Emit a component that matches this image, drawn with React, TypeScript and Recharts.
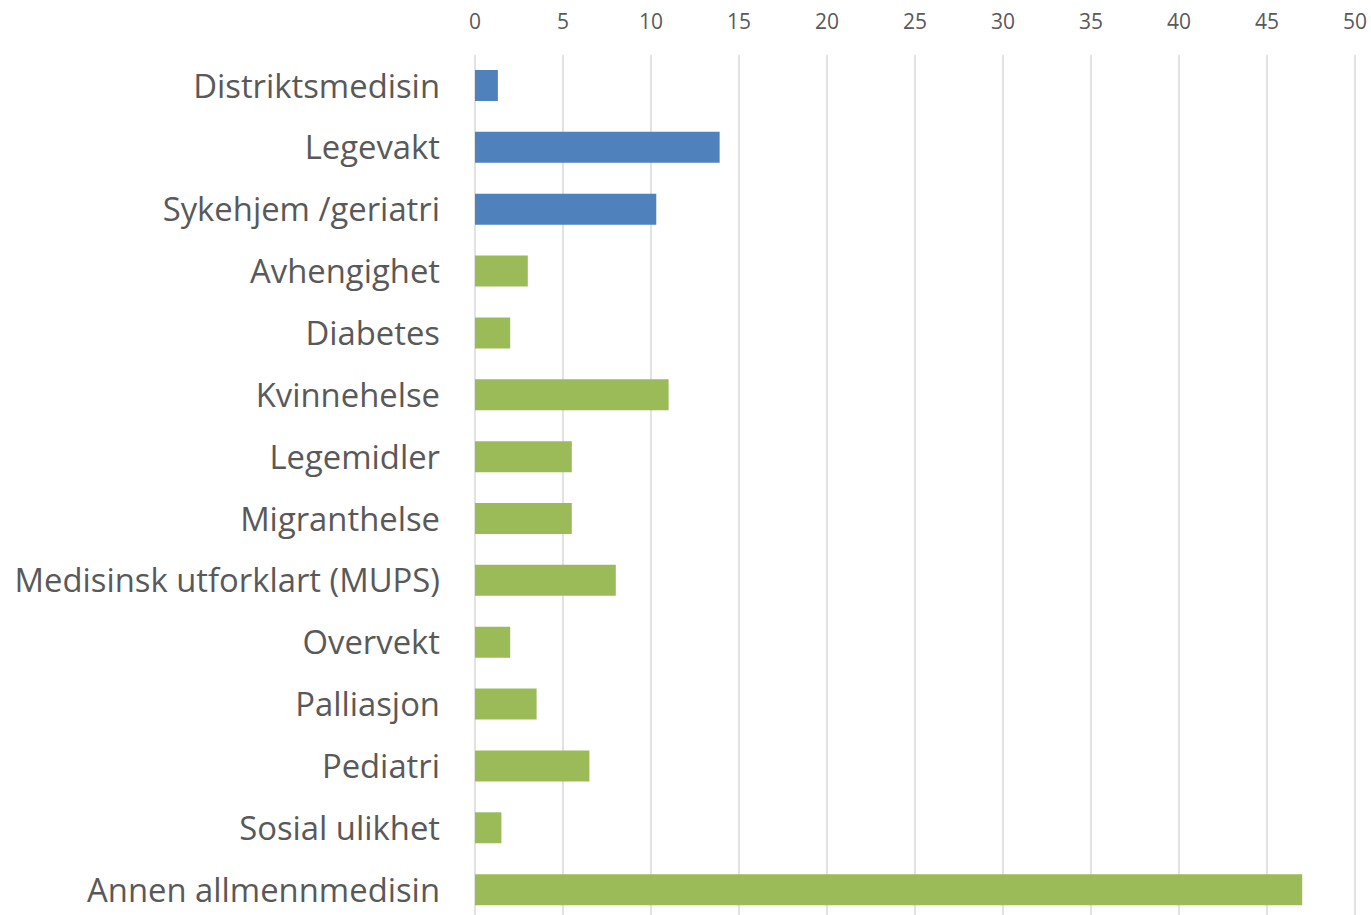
import { BarChart, Bar, XAxis, YAxis, CartesianGrid, Cell } from 'recharts'

const categories = [
  'Distriktsmedisin',
  'Legevakt',
  'Sykehjem /geriatri',
  'Avhengighet',
  'Diabetes',
  'Kvinnehelse',
  'Legemidler',
  'Migranthelse',
  'Medisinsk utforklart (MUPS)',
  'Overvekt',
  'Palliasjon',
  'Pediatri',
  'Sosial ulikhet',
  'Annen allmennmedisin',
]
const values = [1.3, 13.9, 10.3, 3, 2, 11, 5.5, 5.5, 8, 2, 3.5, 6.5, 1.5, 47]
const groups = ['a', 'a', 'a', 'b', 'b', 'b', 'b', 'b', 'b', 'b', 'b', 'b', 'b', 'b']
const ticks = [0, 5, 10, 15, 20, 25, 30, 35, 40, 45, 50]

const colors: Record<string, string> = { a: '#4F81BD', b: '#9BBB59' }

const data = categories.map((name, i) => ({ name, value: values[i], group: groups[i] }))

export default function App() {
  return (
    <div style={{ position: 'absolute', left: 0, top: -1, background: '#fff' }}>
      <BarChart
        width={1371}
        height={922}
        data={data}
        layout="vertical"
        margin={{ top: 0, right: 16, bottom: 0, left: 0 }}
      >
        <CartesianGrid horizontal={false} stroke="#d9d9d9" strokeWidth={1.5} />
        <XAxis
          type="number"
          orientation="top"
          domain={[0, 50]}
          ticks={ticks}
          height={56}
          axisLine={false}
          tickLine={false}
          tickMargin={20}
          tick={{ fill: '#595959', fontSize: 21, fontFamily: 'Open Sans' }}
        />
        <YAxis
          type="category"
          dataKey="name"
          width={475}
          axisLine={false}
          tickLine={false}
          tickSize={0}
          tickMargin={35}
          interval={0}
          tick={{ fill: '#595959', fontSize: 32.8, fontFamily: 'Open Sans' }}
        />
        <Bar dataKey="value" fill="#9BBB59" barSize={31} isAnimationActive={false}>
          {data.map((d, i) => (
            <Cell key={i} fill={colors[d.group]} />
          ))}
        </Bar>
      </BarChart>
    </div>
  )
}
